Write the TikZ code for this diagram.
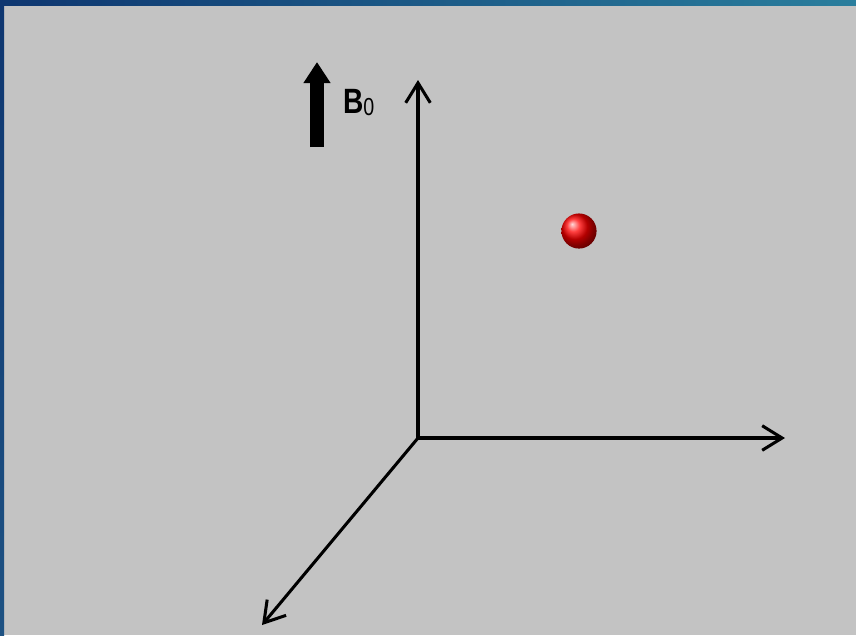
\documentclass[tikz,border=0pt]{standalone}
\usepackage{fontspec}
\setmainfont{Liberation Sans}
\usetikzlibrary{
  arrows.meta,
  positioning
}
\definecolor{slide}{HTML}{C3C3C3}
\definecolor{frameleft}{HTML}{0E3670}
\definecolor{frameright}{HTML}{2A7E9D}
\definecolor{framelow}{HTML}{1E5283}
\definecolor{ink}{HTML}{000000}
\tikzset{
  axis/.style={
    -{Straight Barb[length=17pt,width=21pt]},
    line width=2.6pt,
    draw=ink
  },
  fieldarrow/.style={
    -{Triangle[length=18pt,width=22pt]},
    line width=12.5pt,
    draw=ink
  },
  fieldlabel/.style={
    font=\fontsize{30}{32}\selectfont\bfseries,
    inner sep=0pt,
    xscale=0.8,
    anchor=base west
  },
  spin/.style={
    circle,
    minimum size=30pt,
    inner sep=0pt,
    ball color=red
  }
}

\begin{document}
\begin{tikzpicture}[x=0.03cm, y=-0.03cm]
  \useasboundingbox (0,0) rectangle (856,635);
  % Slide background and frame.
  \fill[slide] (0,0) rectangle (856,635);
  \shade[left color=frameleft, right color=frameright]
    (0,0) rectangle (856,5);
  \shade[top color=frameleft, bottom color=framelow]
    (0,0) rectangle (4,635);

  % Axes.
  \coordinate (origin) at (418,438);
  \coordinate (ztip) at (418,80);
  \coordinate (ytip) at (785,438);
  \coordinate (xtip) at (262,625);
  \draw[axis] (origin) -- (ztip);
  \draw[axis] (origin) -- (ytip);
  \draw[axis] (origin) -- (xtip);

  % Static field.
  \coordinate (fieldfoot) at (317,147);
  \coordinate (fieldhead) at (317,62);
  \draw[fieldarrow] (fieldfoot) -- (fieldhead);
  \node[fieldlabel] (fieldname) at (343,113)
    {B\raisebox{-2.5pt}{\fontsize{21}{22}\selectfont\mdseries 0}};

  % Spin.
  \node[spin] (proton) at (579,231) {};
\end{tikzpicture}
\end{document}
